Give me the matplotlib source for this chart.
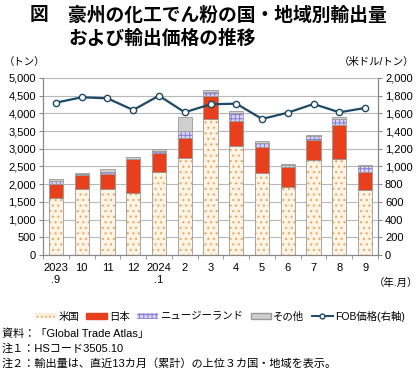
import numpy as np
import matplotlib.pyplot as plt
from matplotlib.patches import Patch
from matplotlib.lines import Line2D

plt.rcParams['font.family'] = ['Liberation Sans', 'Noto Sans CJK JP', 'DejaVu Sans']
plt.rcParams['hatch.linewidth'] = 0.8

# データ（トン、米ドル/トン）
months = ['2023\n.9', '10', '11', '12', '2024\n.1', '2', '3', '4', '5', '6', '7', '8', '9']
us = [1620, 1860, 1860, 1760, 2350, 2730, 3850, 3080, 2330, 1930, 2685, 2720, 1830]
japan = [390, 400, 435, 940, 540, 575, 640, 705, 715, 545, 555, 945, 505]
nz = [75, 20, 50, 20, 55, 205, 105, 215, 130, 65, 125, 185, 180]
other = [70, 30, 75, 55, 40, 395, 75, 75, 50, 30, 35, 50, 40]
fob = [1721, 1782, 1770, 1638, 1800, 1612, 1703, 1710, 1537, 1608, 1706, 1612, 1661]

c_us_fill = '#fdf4e4'
c_us_dot = '#e8a868'
c_jp = '#e8401c'
c_nz_fill = '#dcd8f2'
c_nz_hatch = '#8c80d8'
c_other = '#cfcfcf'
c_line = '#1c4a66'
c_edge = '#9a9a9a'

fig = plt.figure(figsize=(4.2, 3.71), dpi=100)
ax = fig.add_axes([0.1024, 0.3127, 0.7976, 0.4771])
ax2 = ax.twinx()

x = np.arange(len(months))
w = 0.55
b1 = np.array(us)
b2 = b1 + np.array(japan)
b3 = b2 + np.array(nz)

# 米国（点模様）
plt.rcParams['hatch.color'] = c_us_dot
ax.bar(x, us, w, color=c_us_fill, hatch='...', edgecolor=c_us_dot, linewidth=0, zorder=2)
ax.bar(x, us, w, fill=False, edgecolor=c_edge, linewidth=0.6, zorder=3)
# 日本
ax.bar(x, japan, w, bottom=b1, color=c_jp, edgecolor=c_edge, linewidth=0.6, zorder=3)
# ニュージーランド（格子模様）
ax.bar(x, nz, w, bottom=b2, color=c_nz_fill, hatch='++++', edgecolor=c_nz_hatch, linewidth=0, zorder=2)
ax.bar(x, nz, w, bottom=b2, fill=False, edgecolor=c_edge, linewidth=0.6, zorder=3)
# その他
ax.bar(x, other, w, bottom=b3, color=c_other, edgecolor=c_edge, linewidth=0.6, zorder=3)

ax2.plot(x, fob, color=c_line, linewidth=1.6, marker='o', markersize=4.5,
         markerfacecolor='white', markeredgecolor=c_line, markeredgewidth=1.0, zorder=5)

ax.set_xlim(-0.5, len(months) - 0.5)
ax.set_ylim(0, 5000)
ax.set_yticks(np.arange(0, 5001, 500))
ax.set_yticklabels([f'{v:,}' for v in range(0, 5001, 500)])
ax2.set_ylim(0, 2000)
ax2.set_yticks(np.arange(0, 2001, 200))
ax2.set_yticklabels([f'{v:,}' for v in range(0, 2001, 200)])

ax.yaxis.grid(True, color='#b8b8b8', linewidth=0.8, zorder=0)
ax.set_axisbelow(True)

ax.set_xticks(x)
ax.set_xticklabels(months, fontsize=8)
ax.set_xticks(np.arange(-0.5, len(months), 1), minor=True)
ax.tick_params(axis='x', which='major', length=0, pad=6)
ax.tick_params(axis='x', which='minor', length=3, color='#888888', direction='out')
ax.tick_params(axis='y', labelsize=8, length=3, color='#888888', pad=2)
ax2.tick_params(axis='y', labelsize=8, length=3, color='#888888', pad=2)

for a in (ax, ax2):
    a.spines['top'].set_visible(False)
    for s in ('left', 'right', 'bottom'):
        a.spines[s].set_color('#888888')
        a.spines[s].set_linewidth(0.8)

# タイトル
fig.text(30 / 420, 1 - 16 / 371, '図', fontsize=13.5, fontweight='bold', va='center', ha='left')
fig.text(68 / 420, 1 - 16 / 371, '豪州の化工でん粉の国・地域別輸出量', fontsize=13.5,
         fontweight='bold', va='center', ha='left')
fig.text(68 / 420, 1 - 39 / 371, 'および輸出価格の推移', fontsize=13.5,
         fontweight='bold', va='center', ha='left')

fig.text(4 / 420, 1 - 62 / 371, '（トン）', fontsize=7.5, va='center', ha='left')
fig.text(414 / 420, 1 - 62 / 371, '（米ドル/トン）', fontsize=7.5, va='center', ha='right')
fig.text(418 / 420, 1 - 283 / 371, '（年.月）', fontsize=7.5, va='center', ha='right')

# 凡例
handles = [
    Patch(facecolor=c_us_fill, edgecolor=c_us_dot, hatch='....', linewidth=0),
    Patch(facecolor=c_jp, edgecolor=c_jp),
    Patch(facecolor=c_nz_fill, edgecolor=c_nz_hatch, hatch='++++', linewidth=0),
    Patch(facecolor=c_other, edgecolor=c_edge),
    Line2D([0], [0], color=c_line, linewidth=1.4, marker='o', markersize=3.5,
           markerfacecolor='white', markeredgecolor=c_line),
]
labels = ['米国', '日本', 'ニュージーランド', 'その他', 'FOB価格(右軸)']
fig.legend(handles, labels, loc='center', bbox_to_anchor=(220 / 420, 1 - 316 / 371),
           ncol=5, frameon=False, fontsize=7.5, handlelength=2.0, handleheight=0.5,
           handletextpad=0.2, columnspacing=0.7, borderpad=0.1)

# 注記
notes = ['資料：「Global Trade Atlas」',
         '注１：HSコード3505.10',
         '注２：輸出量は、直近13カ月（累計）の上位３カ国・地域を表示。']
for i, t in enumerate(notes):
    fig.text(2 / 420, 1 - (334 + i * 14.5) / 371, t, fontsize=8, va='center', ha='left')

fig.savefig('out.png', dpi=100)
